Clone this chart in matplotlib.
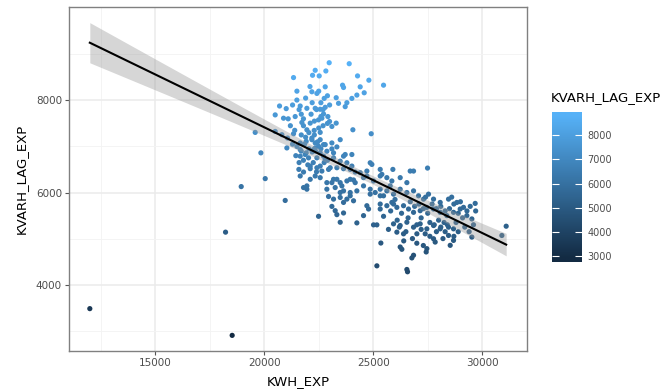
import numpy as np
import matplotlib
matplotlib.use("Agg")
import matplotlib.pyplot as plt
from matplotlib.colors import LinearSegmentedColormap, Normalize

# ---------------------------------------------------------------------------
# Data
# ---------------------------------------------------------------------------
kwh_exp = [
    22981, 23899, 22339, 22217, 22523, 22828, 21345, 24281, 24801, 25474,
    23593, 23639, 22798, 24403, 24587, 24250, 24021, 23792, 23409, 23715,
    23302, 22416, 22186, 22752, 21498, 21651, 21957, 22339, 22568, 22798,
    22721, 22920, 22997, 23302, 23104, 20703, 21009, 20504, 20886, 21421,
    21727, 22110, 22492, 22645, 21957, 22293, 22568, 21345, 24067, 24908,
    19587, 20504, 20810, 21070, 21651, 21926, 22186, 22339, 22492, 22721,
    23104, 23486, 21651, 21926, 22263, 22568, 22874, 23104, 23333, 23715,
    24021, 19847, 21039, 21651, 22033, 22416, 22798, 23180, 23486, 23792,
    24021, 24403, 24709, 24862, 24939, 25321, 25397, 25902, 26697, 26850,
    27492, 21590, 21804, 22110, 22416, 22645, 22951, 23333, 23639, 23945,
    24174, 24556, 24709, 25015, 25321, 25626, 25856, 26238, 26544, 21651,
    22110, 22568, 22874, 23180, 23486, 23792, 24097, 20046, 21804, 21957,
    22874, 23256, 23639, 23945, 24250, 24556, 24862, 25091, 25321, 25626,
    25932, 26238, 26544, 26850, 27079, 27308, 27537, 27767, 28073, 28455,
    28837, 29143, 29678, 18945, 20963, 22951, 23180, 23486, 23792, 24097,
    23104, 23256, 23333, 23639, 22492, 23486, 24250, 24556, 24786, 25168,
    25474, 25856, 26085, 26391, 26620, 26850, 27155, 27461, 27767, 28073,
    28379, 28684, 28990, 29296, 29525, 25015, 25932, 26238, 26544, 26850,
    27155, 27461, 27767, 28073, 28455, 28684, 26085, 26391, 27003, 27385,
    27767, 27843, 28455, 28684, 28532, 29525, 30902, 31100, 18226, 25351,
    26238, 26314, 26850, 26773, 27461, 27430, 25168, 26544, 26574, 25321,
    25626, 22186, 22568, 22798, 22339, 21880, 22721, 23180, 23639, 22110,
    22568, 23027, 23333, 23945, 22339, 21957, 23104, 23563, 24174, 25321,
    25779, 23486, 23945, 24862, 25474, 23639, 24709, 25932, 25321, 12000,
    18530,
    # denser upper-left core
    21500, 21700, 21850, 22050, 22200, 22350, 22450, 22600, 21600, 21800,
    22000, 22250, 22400, 22750, 22900, 21700, 21900, 22050, 22300, 22500,
    22700, 21800, 22150, 22400, 22600, 22900, 21600, 21200, 21300, 21450,
    21100, 21300, 21500, 21700, 21900, 22100, 22300, 22500, 22700, 22900,
    21400, 21800, 22200, 22600, 23000,
    # denser lower-right band
    26700, 26900, 27100, 27300, 27500, 27700, 27900, 28100, 28300, 28500,
    28700, 28900, 29100, 29300, 29450, 27200, 27600, 28000, 28250, 28800,
    26300, 26600, 26000, 25800, 27400, 28600, 29000, 29700, 27000, 28300,
    26200, 26500, 26800, 27000, 27200, 27600, 27900, 28200, 28400, 28900,
    29200, 29600, 26400, 27300, 28700, 25700, 26100, 27800, 28100, 29400,
]
kvarh_lag_exp = [
    8817, 8796, 8653, 8545, 8531, 8638, 8495, 8531, 8438, 8330,
    8330, 8280, 8294, 8294, 8165, 8115, 8043, 7950, 7936, 7864,
    8058, 8151, 8187, 8043, 8007, 7878, 7828, 7828, 7807, 7850,
    7706, 7649, 7542, 7506, 7434, 7878, 7821, 7685, 7613, 7649,
    7520, 7506, 7577, 7613, 7362, 7348, 7305, 7276, 7362, 7276,
    7305, 7326, 7255, 7183, 7076, 7111, 7147, 7076, 7004, 7040,
    7076, 7147, 6932, 6861, 6932, 6861, 6896, 6947, 6990, 6825,
    6825, 6861, 6968, 6789, 6753, 6753, 6717, 6753, 6681, 6646,
    6574, 6431, 6466, 6646, 6610, 6502, 6395, 6502, 6466, 6466,
    6531, 6502, 6445, 6517, 6538, 6466, 6502, 6538, 6517, 6502,
    6445, 6323, 6359, 6251, 6359, 6323, 6251, 6323, 6215, 6359,
    6287, 6323, 6215, 6287, 6215, 6251, 6273, 6302, 6108, 6072,
    6072, 6108, 6036, 6000, 6036, 6144, 6072, 6000, 5929, 6036,
    5965, 6072, 6000, 6036, 5929, 5857, 5965, 5857, 5785, 5857,
    5785, 5678, 5764, 6129, 5828, 5914, 5857, 5893, 5857, 5821,
    5699, 5606, 5520, 5556, 5484, 5355, 5341, 5499, 5642, 5298,
    5484, 5785, 5678, 5714, 5642, 5570, 5606, 5678, 5642, 5570,
    5499, 5570, 5642, 5499, 5427, 5298, 5320, 5284, 5355, 5248,
    5320, 5212, 5284, 5212, 5248, 5212, 5140, 5104, 5104, 5104,
    4997, 4925, 5068, 4961, 4854, 5033, 5068, 5269, 5140, 4904,
    4818, 4768, 4639, 4581, 4782, 4710, 4409, 4330, 4280, 5642,
    5714, 7183, 7147, 7040, 6968, 6825, 6789, 6861, 6789, 6574,
    6574, 6538, 6287, 6287, 6359, 6144, 6215, 6144, 6215, 6072,
    6144, 6000, 5929, 5965, 5929, 5785, 5714, 5750, 5750, 3480,
    2900,
    # denser upper-left core
    7000, 6900, 7050, 6950, 6880, 6900, 7100, 6950, 6650, 6700,
    6600, 6650, 6450, 6650, 6700, 7250, 7200, 7300, 7250, 7400,
    7450, 7600, 7700, 7800, 7950, 8100, 7800, 7450, 7050, 6800,
    7600, 7900, 8200, 7700, 8050, 8300, 7550, 8200, 7800, 7500,
    7350, 7450, 7950, 7650, 7900,
    # denser lower-right band
    5800, 5700, 5750, 5650, 5550, 5750, 5650, 5700, 5600, 5650,
    5750, 5550, 5450, 5600, 5700, 5450, 5350, 5400, 5350, 5350,
    5550, 5450, 5850, 5600, 5900, 5900, 5800, 5600, 5300, 5150,
    5250, 5150, 5000, 4900, 5200, 5050, 5150, 5000, 5300, 5150,
    5250, 5300, 4950, 4850, 5050, 5200, 5400, 5300, 5250, 5150,
]

x_ticks = [15000, 20000, 25000, 30000]
y_ticks = [4000, 6000, 8000]
cbar_ticks = [3000, 4000, 5000, 6000, 7000, 8000]

x = np.array(kwh_exp, dtype=float)
y = np.array(kvarh_lag_exp, dtype=float)

# ---------------------------------------------------------------------------
# Linear fit + 95% confidence band (like geom_smooth(method="lm"))
# ---------------------------------------------------------------------------
n = len(x)
slope, intercept = np.polyfit(x, y, 1)
resid = y - (slope * x + intercept)
s = np.sqrt(np.sum(resid ** 2) / (n - 2))
sxx = np.sum((x - x.mean()) ** 2)
t_val = 1.97
xs = np.linspace(x.min(), x.max(), 80)
ys = slope * xs + intercept
se = s * np.sqrt(1 / n + (xs - x.mean()) ** 2 / sxx)

# ggplot default continuous colour gradient
cmap = LinearSegmentedColormap.from_list("gg", ["#132B43", "#56B1F7"])
norm = Normalize(y.min(), y.max())

# ---------------------------------------------------------------------------
# Plot
# ---------------------------------------------------------------------------
W, H = 669, 391
fig = plt.figure(figsize=(W / 100, H / 100), dpi=100)
ax = fig.add_axes([69 / W, 1 - 351 / H, (527 - 69) / W, (351 - 7) / H])

ax.scatter(x, y, c=y, cmap=cmap, norm=norm, s=14, linewidths=0, zorder=3)
ax.fill_between(xs, ys - t_val * se, ys + t_val * se, color="#999999",
                alpha=0.4, linewidth=0, zorder=4)
ax.plot(xs, ys, color="black", lw=1.5, zorder=5)

xr = x.max() - x.min()
y_lo = min(y.min(), (ys - t_val * se).min())
y_hi = max(y.max(), (ys + t_val * se).max())
yr = y_hi - y_lo
ax.set_xlim(x.min() - 0.05 * xr, x.max() + 0.05 * xr)
ax.set_ylim(y_lo - 0.05 * yr, y_hi + 0.05 * yr)

ax.set_xticks(x_ticks)
ax.set_yticks(y_ticks)
ax.set_xticks([12500, 17500, 22500, 27500], minor=True)
ax.set_yticks([3000, 5000, 7000, 9000], minor=True)
ax.grid(which="major", color="#EBEBEB", lw=1.1, zorder=0)
ax.grid(which="minor", color="#F3F3F3", lw=0.6, zorder=0)
ax.set_axisbelow(True)
ax.tick_params(which="major", length=3, width=0.8, color="#555555",
               labelcolor="#4D4D4D", labelsize=7.5, pad=2)
ax.tick_params(which="minor", length=0)
for sp in ax.spines.values():
    sp.set_color("#808080")
    sp.set_linewidth(1.0)

ax.set_xlabel("KWH_EXP", fontsize=9.5, labelpad=5)
ax.set_ylabel("KVARH_LAG_EXP", fontsize=9.5, labelpad=6)

# colour bar legend
cax = fig.add_axes([552 / W, 1 - 262 / H, 30 / W, 150 / H])
half_bin = (y.max() - y.min()) / 40
lo, hi = y.min() - half_bin, y.max() + half_bin
grad = np.linspace(hi, lo, 200).reshape(-1, 1)
cax.imshow(grad, cmap=cmap, norm=norm, aspect="auto",
           extent=[0, 1, lo, hi])
cax.set_xlim(0, 1)
cax.set_ylim(lo, hi)
cax.set_xticks([])
cax.set_yticks(cbar_ticks)
cax.tick_params(axis="y", direction="in", color="white", length=5, width=0.8,
                left=True, right=True, labelleft=False, labelright=True,
                labelsize=7, labelcolor="#4D4D4D", pad=4)
for sp in cax.spines.values():
    sp.set_visible(False)

fig.text(551 / W, 1 - 98 / H, "KVARH_LAG_EXP", fontsize=9.5, va="center",
         ha="left")

fig.savefig("out.png", dpi=100, facecolor="white")
